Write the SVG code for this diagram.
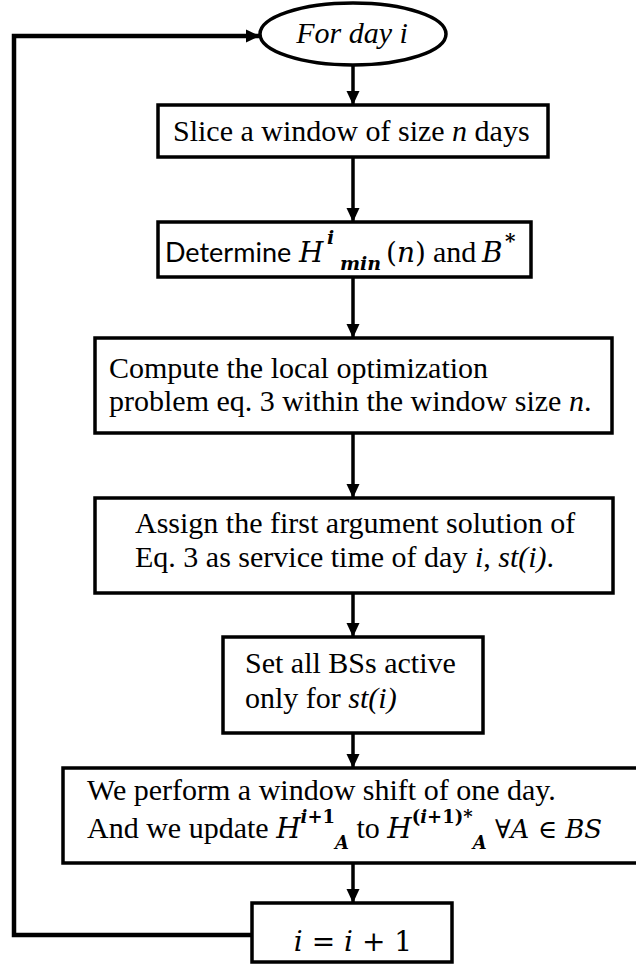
<svg xmlns="http://www.w3.org/2000/svg" width="636" height="964" viewBox="0 0 636 964">
<style>
.box{fill:#fff;stroke:#000;stroke-width:3.5}
.t{font-family:"Liberation Serif","Times New Roman",serif;font-size:30px;fill:#000}
.it{font-style:italic}
.m{font-family:"DejaVu Serif",serif;fill:#000}
.mi{font-family:"DejaVu Serif",serif;font-style:italic}
.mu{font-family:"DejaVu Serif",serif;font-style:normal}
.sans{font-family:Lato,"Liberation Sans",sans-serif;font-size:27px;fill:#000}
.conn{fill:none;stroke:#000;stroke-width:3.5}
</style>
<defs>
<marker id="ah" markerUnits="userSpaceOnUse" markerWidth="14" markerHeight="14" viewBox="0 0 14 14" refX="13" refY="7" orient="auto">
<path d="M0,0.5 L14,7 L0,13.5 Z" fill="#000"/>
</marker>
</defs>
<g id="connectors">
<line class="conn" x1="353" y1="65" x2="353" y2="104" marker-end="url(#ah)"/>
<line class="conn" x1="353" y1="157" x2="353" y2="221" marker-end="url(#ah)"/>
<line class="conn" x1="353" y1="277" x2="353" y2="337" marker-end="url(#ah)"/>
<line class="conn" x1="353" y1="433" x2="353" y2="497" marker-end="url(#ah)"/>
<line class="conn" x1="353" y1="593" x2="353" y2="636" marker-end="url(#ah)"/>
<line class="conn" x1="353" y1="733" x2="353" y2="767" marker-end="url(#ah)"/>
<line class="conn" x1="353" y1="863" x2="353" y2="902" marker-end="url(#ah)"/>
<polyline class="conn" style="stroke-width:4.5" points="252,935 14,935 14,36 259,36" marker-end="url(#ah)"/>
</g>
<g id="start">
<ellipse class="box" cx="353" cy="34" rx="93" ry="31"/>
<text class="t it" x="352" y="43" text-anchor="middle">For day i</text>
</g>
<g id="slice">
<rect class="box" x="158" y="105" width="390" height="52"/>
<text class="t" x="173" y="141">Slice a window of size <tspan class="it">n</tspan> days</text>
</g>
<g id="determine">
<rect class="box" x="158" y="222" width="373" height="55"/>
<text class="sans" x="165" y="262">Determine</text>
<text class="m mi" font-size="28" x="299" y="262">H</text>
<text class="m mi" font-size="19" font-weight="bold" x="327" y="244">i</text>
<text class="m mi" font-size="19" font-weight="bold" x="340" y="270">min</text>
<text class="m" font-size="28" x="386" y="262">(<tspan class="mi">n</tspan>)</text>
<text class="t" font-size="28" x="433" y="262">and</text>
<text class="m mi" font-size="28" x="482" y="262">B</text>
<text class="m" font-size="20" font-weight="bold" x="505" y="248">*</text>
</g>
<g id="compute">
<rect class="box" x="95" y="338" width="517" height="95"/>
<text class="t" x="109" y="378">Compute the local optimization</text>
<text class="t" x="109" y="411">problem eq. 3 within the window size <tspan class="it">n</tspan>.</text>
</g>
<g id="assign">
<rect class="box" x="95" y="498" width="518" height="95"/>
<text class="t" x="135" y="533">Assign the first argument solution of</text>
<text class="t" x="135" y="567">Eq. 3 as service time of day <tspan class="it">i</tspan>, <tspan class="it">st(i)</tspan>.</text>
</g>
<g id="setactive">
<rect class="box" x="223" y="637" width="260" height="96"/>
<text class="t" x="245" y="673">Set all BSs active</text>
<text class="t" x="245" y="708">only for <tspan class="it">st(i)</tspan></text>
</g>
<g id="shift">
<rect class="box" x="63" y="768" width="590" height="95"/>
<text class="t" x="87" y="800">We perform a window shift of one day.</text>
<text class="t" x="87" y="838">And we update <tspan class="mi" font-size="28">H</tspan><tspan class="mu" font-size="18" font-weight="bold" dy="-15"><tspan class="mi">i</tspan>+1</tspan><tspan class="mi" font-size="18" font-weight="bold" dy="26">A</tspan><tspan dy="-11"> to </tspan><tspan class="mi" font-size="28">H</tspan><tspan class="mu" font-size="18" font-weight="bold" dy="-15">(<tspan class="mi">i</tspan>+1)*</tspan><tspan class="mi" font-size="18" font-weight="bold" dy="26">A</tspan><tspan class="mu" font-size="26" dy="-11"> ∀<tspan class="mi">A</tspan> ∈ <tspan class="mi">BS</tspan></tspan></text>
</g>
<g id="increment">
<rect class="box" x="252" y="903" width="200" height="59"/>
<text class="m" font-size="28" x="353" y="951" text-anchor="middle"><tspan class="mi">i</tspan> = <tspan class="mi">i</tspan> + 1</text>
</g>
</svg>
